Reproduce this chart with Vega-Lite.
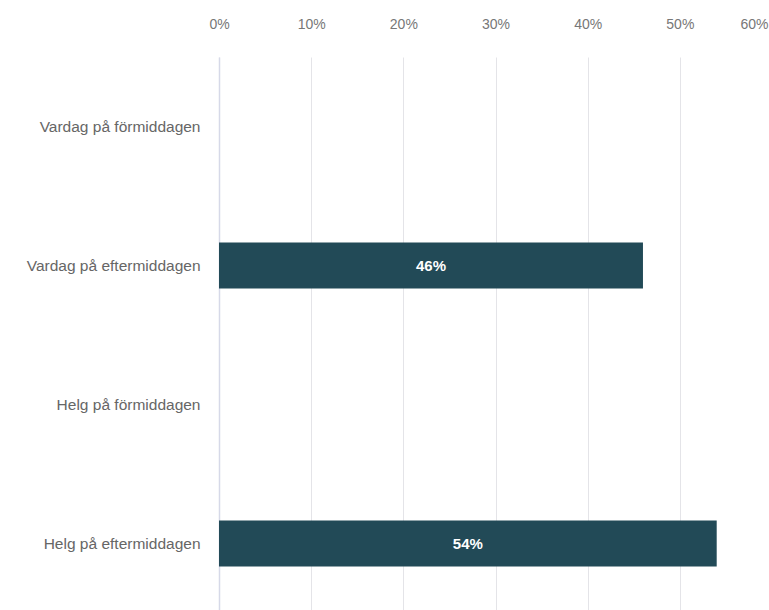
{
  "$schema": "https://vega.github.io/schema/vega-lite/v6.json",
  "autosize": "none",
  "width": 553,
  "height": 556,
  "padding": {"left": 219, "top": 57, "right": 0, "bottom": 0},
  "background": "white",
  "config": {"view": {"stroke": null}, "font": "Liberation Sans"},
  "data": {"values": [
    {"kategori": "Vardag på förmiddagen", "andel": 0},
    {"kategori": "Vardag på eftermiddagen", "andel": 0.46},
    {"kategori": "Helg på förmiddagen", "andel": 0},
    {"kategori": "Helg på eftermiddagen", "andel": 0.54}
  ]},
  "encoding": {
    "y": {"field": "kategori", "type": "nominal", "sort": null,
      "scale": {"paddingInner": 0.67, "paddingOuter": 0.335},
      "axis": {"title": null, "ticks": false, "domain": true, "domainColor": "#d6d9e8", "domainWidth": 1.5,
        "labelFont": "Liberation Sans", "labelFontSize": 15.5, "labelColor": "#666666", "labelPadding": 19, "labelLimit": 220}}
  },
  "layer": [
    {"mark": {"type": "bar", "color": "#224a57"},
     "encoding": {"x": {"field": "andel", "type": "quantitative",
      "scale": {"domain": [0, 0.6], "nice": false},
      "axis": {"orient": "top", "title": null, "format": ".0%", "values": [0, 0.1, 0.2, 0.3, 0.4, 0.5, 0.6],
        "ticks": false, "domain": false, "grid": true, "gridColor": "#e4e4e8", "gridWidth": 1,
        "labelFont": "Liberation Sans", "labelFontSize": 14, "labelColor": "#777777", "labelPadding": 26,
        "labelAlign": {"condition": {"test": "datum.value >= 0.6", "value": "right"}, "value": "center"},
        "labelOffset": {"condition": {"test": "datum.value >= 0.6", "value": -4}, "value": 0}}}}},
    {"transform": [{"filter": "datum.andel > 0"}],
     "mark": {"type": "text", "color": "white", "fontWeight": "bold", "fontSize": 15, "font": "Liberation Sans", "baseline": "middle", "align": "center"},
     "encoding": {"x": {"field": "andel", "type": "quantitative", "scale": {"domain": [0, 1.2], "nice": false}, "axis": null},
       "text": {"field": "andel", "type": "quantitative", "format": ".0%"}}}
  ],
  "resolve": {"scale": {"x": "independent"}}
}
